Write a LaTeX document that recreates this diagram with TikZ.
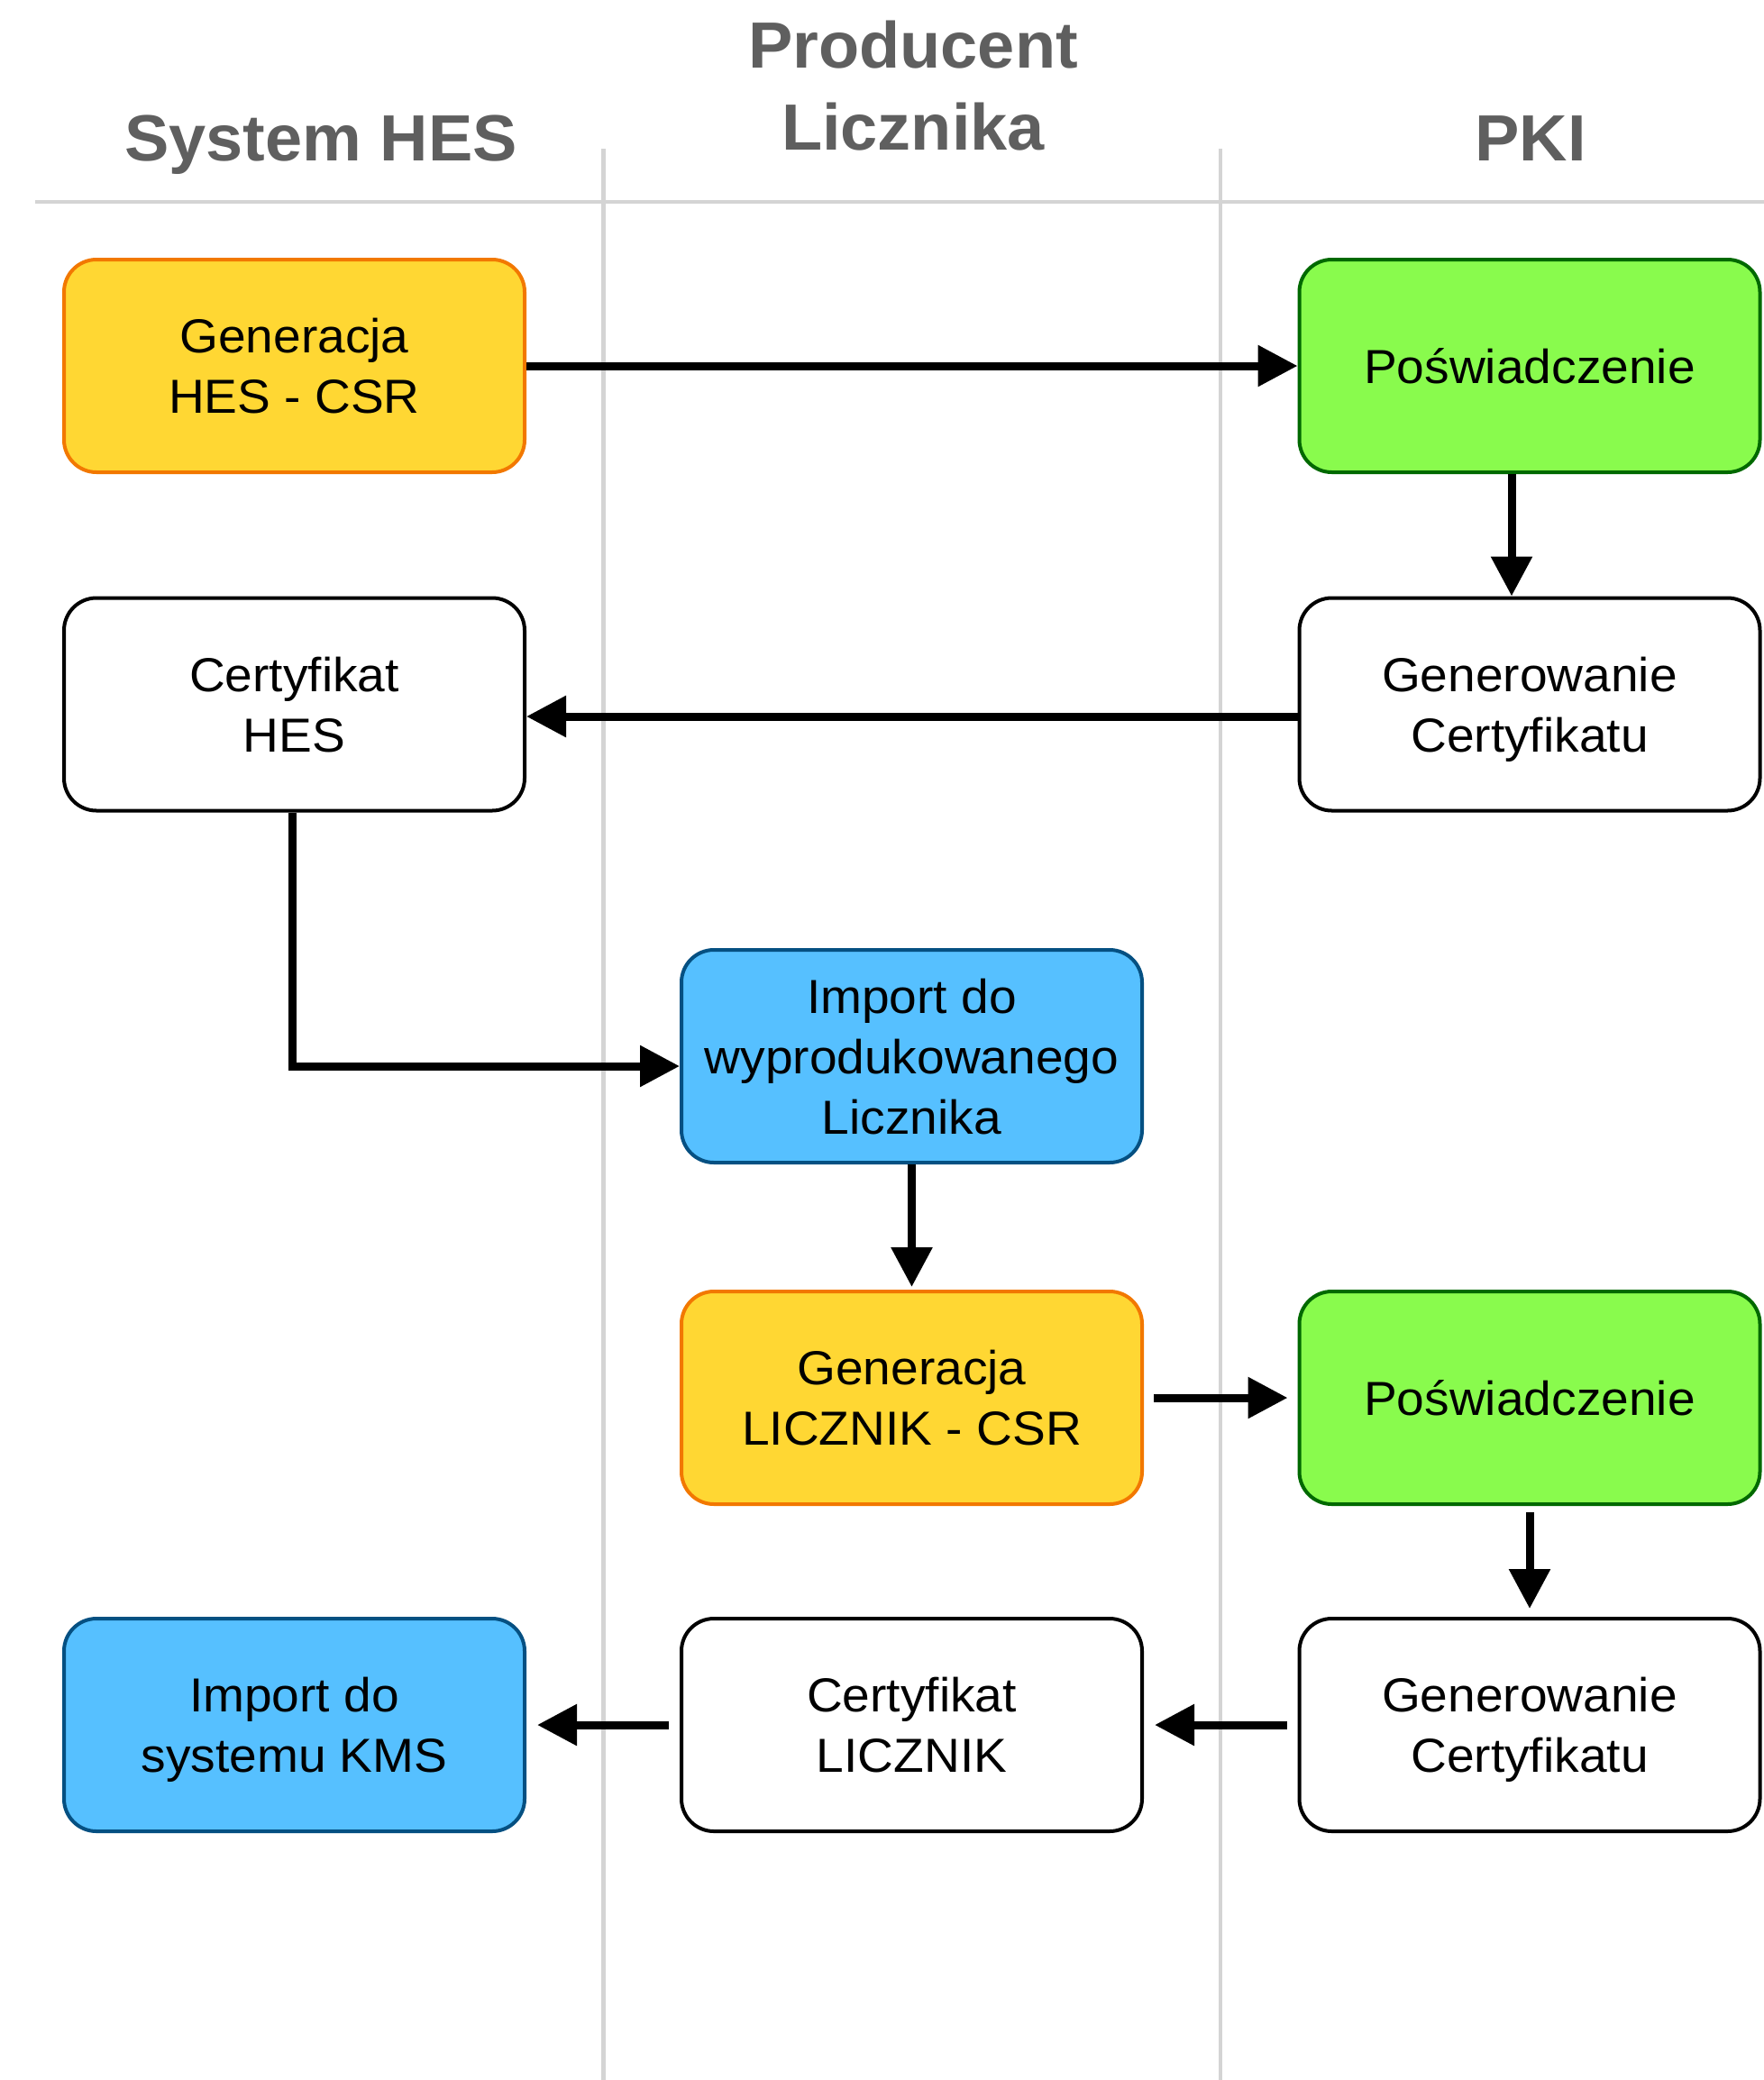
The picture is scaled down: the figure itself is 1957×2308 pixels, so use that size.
\documentclass[tikz,border=0pt]{standalone}
\usepackage{fontspec}
\setmainfont{Liberation Sans}
\newfontfamily\boxfont[FakeStretch=1.04]{Liberation Sans}
\newfontfamily\headfont[FakeStretch=1.02]{Liberation Sans}
\usetikzlibrary{arrows.meta}
\definecolor{yfill}{HTML}{FFD733}
\definecolor{ydraw}{HTML}{F27800}
\definecolor{gfill}{HTML}{89FB4D}
\definecolor{gdraw}{HTML}{006900}
\definecolor{bfill}{HTML}{56C0FF}
\definecolor{bdraw}{HTML}{055082}
\definecolor{headgray}{HTML}{5F5F5F}
\definecolor{lanegray}{HTML}{D4D4D4}
\begin{document}
\begin{tikzpicture}[x=1pt,y=-1pt,
  box/.style={draw, line width=4pt, rounded corners=36pt, minimum width=511pt, minimum height=236pt,
    inner sep=0pt, align=center, text depth=0pt, font=\boxfont\fontsize{53}{67}\selectfont},
  ybox/.style={box, fill=yfill, draw=ydraw},
  gbox/.style={box, fill=gfill, draw=gdraw},
  bbox/.style={box, fill=bfill, draw=bdraw},
  wbox/.style={box, fill=white, draw=black},
  head/.style={inner sep=0pt, align=center, text=headgray, font=\headfont\bfseries\fontsize{72.5}{91}\selectfont},
  lane/.style={draw=lanegray, line width=4.5pt},
  arr/.style={line width=9pt, -{Triangle[length=44pt,width=44pt]}}]
\useasboundingbox (0,0) rectangle (1957,2308);
\fill[white] (0,0) rectangle (1957,2308);
% lanes
\coordinate (hl1) at (39,224);
\coordinate (hl2) at (1957,224);
\coordinate (v1a) at (669.5,165);
\coordinate (v1b) at (669.5,2308);
\coordinate (v2a) at (1354,165);
\coordinate (v2b) at (1354,2308);
\draw[lane] (hl1) -- (hl2);
\draw[lane] (v1a) -- (v1b);
\draw[lane] (v2a) -- (v2b);
% headers
\node[head, anchor=base] (hhes) at (356,178) {System HES};
\node[head, anchor=base] (hprod) at (1013,166) {Producent\\Licznika};
\node[head, anchor=base] (hpki) at (1698,178) {PKI};
% boxes
\node[ybox] (g1) at (326.5,406) {Generacja\\HES - CSR};
\node[gbox] (p1) at (1697,406) {Poświadczenie};
\node[wbox] (c1) at (1697,781.5) {Generowanie\\Certyfikatu};
\node[wbox] (h2) at (326.5,781.5) {Certyfikat\\HES};
\node[bbox] (imp) at (1011.5,1172) {Import do\\wyprodukowanego\\Licznika};
\node[ybox] (gl) at (1011.5,1551) {Generacja\\LICZNIK - CSR};
\node[gbox] (p2) at (1697,1551) {Poświadczenie};
\node[wbox] (c2) at (1697,1914) {Generowanie\\Certyfikatu};
\node[wbox] (cl) at (1011.5,1914) {Certyfikat\\LICZNIK};
\node[bbox] (kms) at (326.5,1914) {Import do\\systemu KMS};
% arrows
\draw[arr] (g1.east) -- (p1.west);
\draw[arr] ([xshift=-20pt]p1.south) -- ([xshift=-20pt]c1.north);
\draw[arr] ([yshift=-13.5pt]c1.west) -- ([yshift=-13.5pt]h2.east);
\draw[arr] ([xshift=-2.5pt]h2.south) |- ([yshift=-11pt]imp.west);
\draw[arr, shorten >=3pt] (imp.south) -- (gl.north);
\draw[arr, shorten <=11pt, shorten >=11pt] (gl.east) -- (p2.west);
\draw[arr, shorten <=7pt, shorten >=9pt] (p2.south) -- (c2.north);
\draw[arr, shorten <=12pt, shorten >=12pt] (c2.west) -- (cl.east);
\draw[arr, shorten <=12pt, shorten >=12pt] (cl.west) -- (kms.east);
\end{tikzpicture}
\end{document}
